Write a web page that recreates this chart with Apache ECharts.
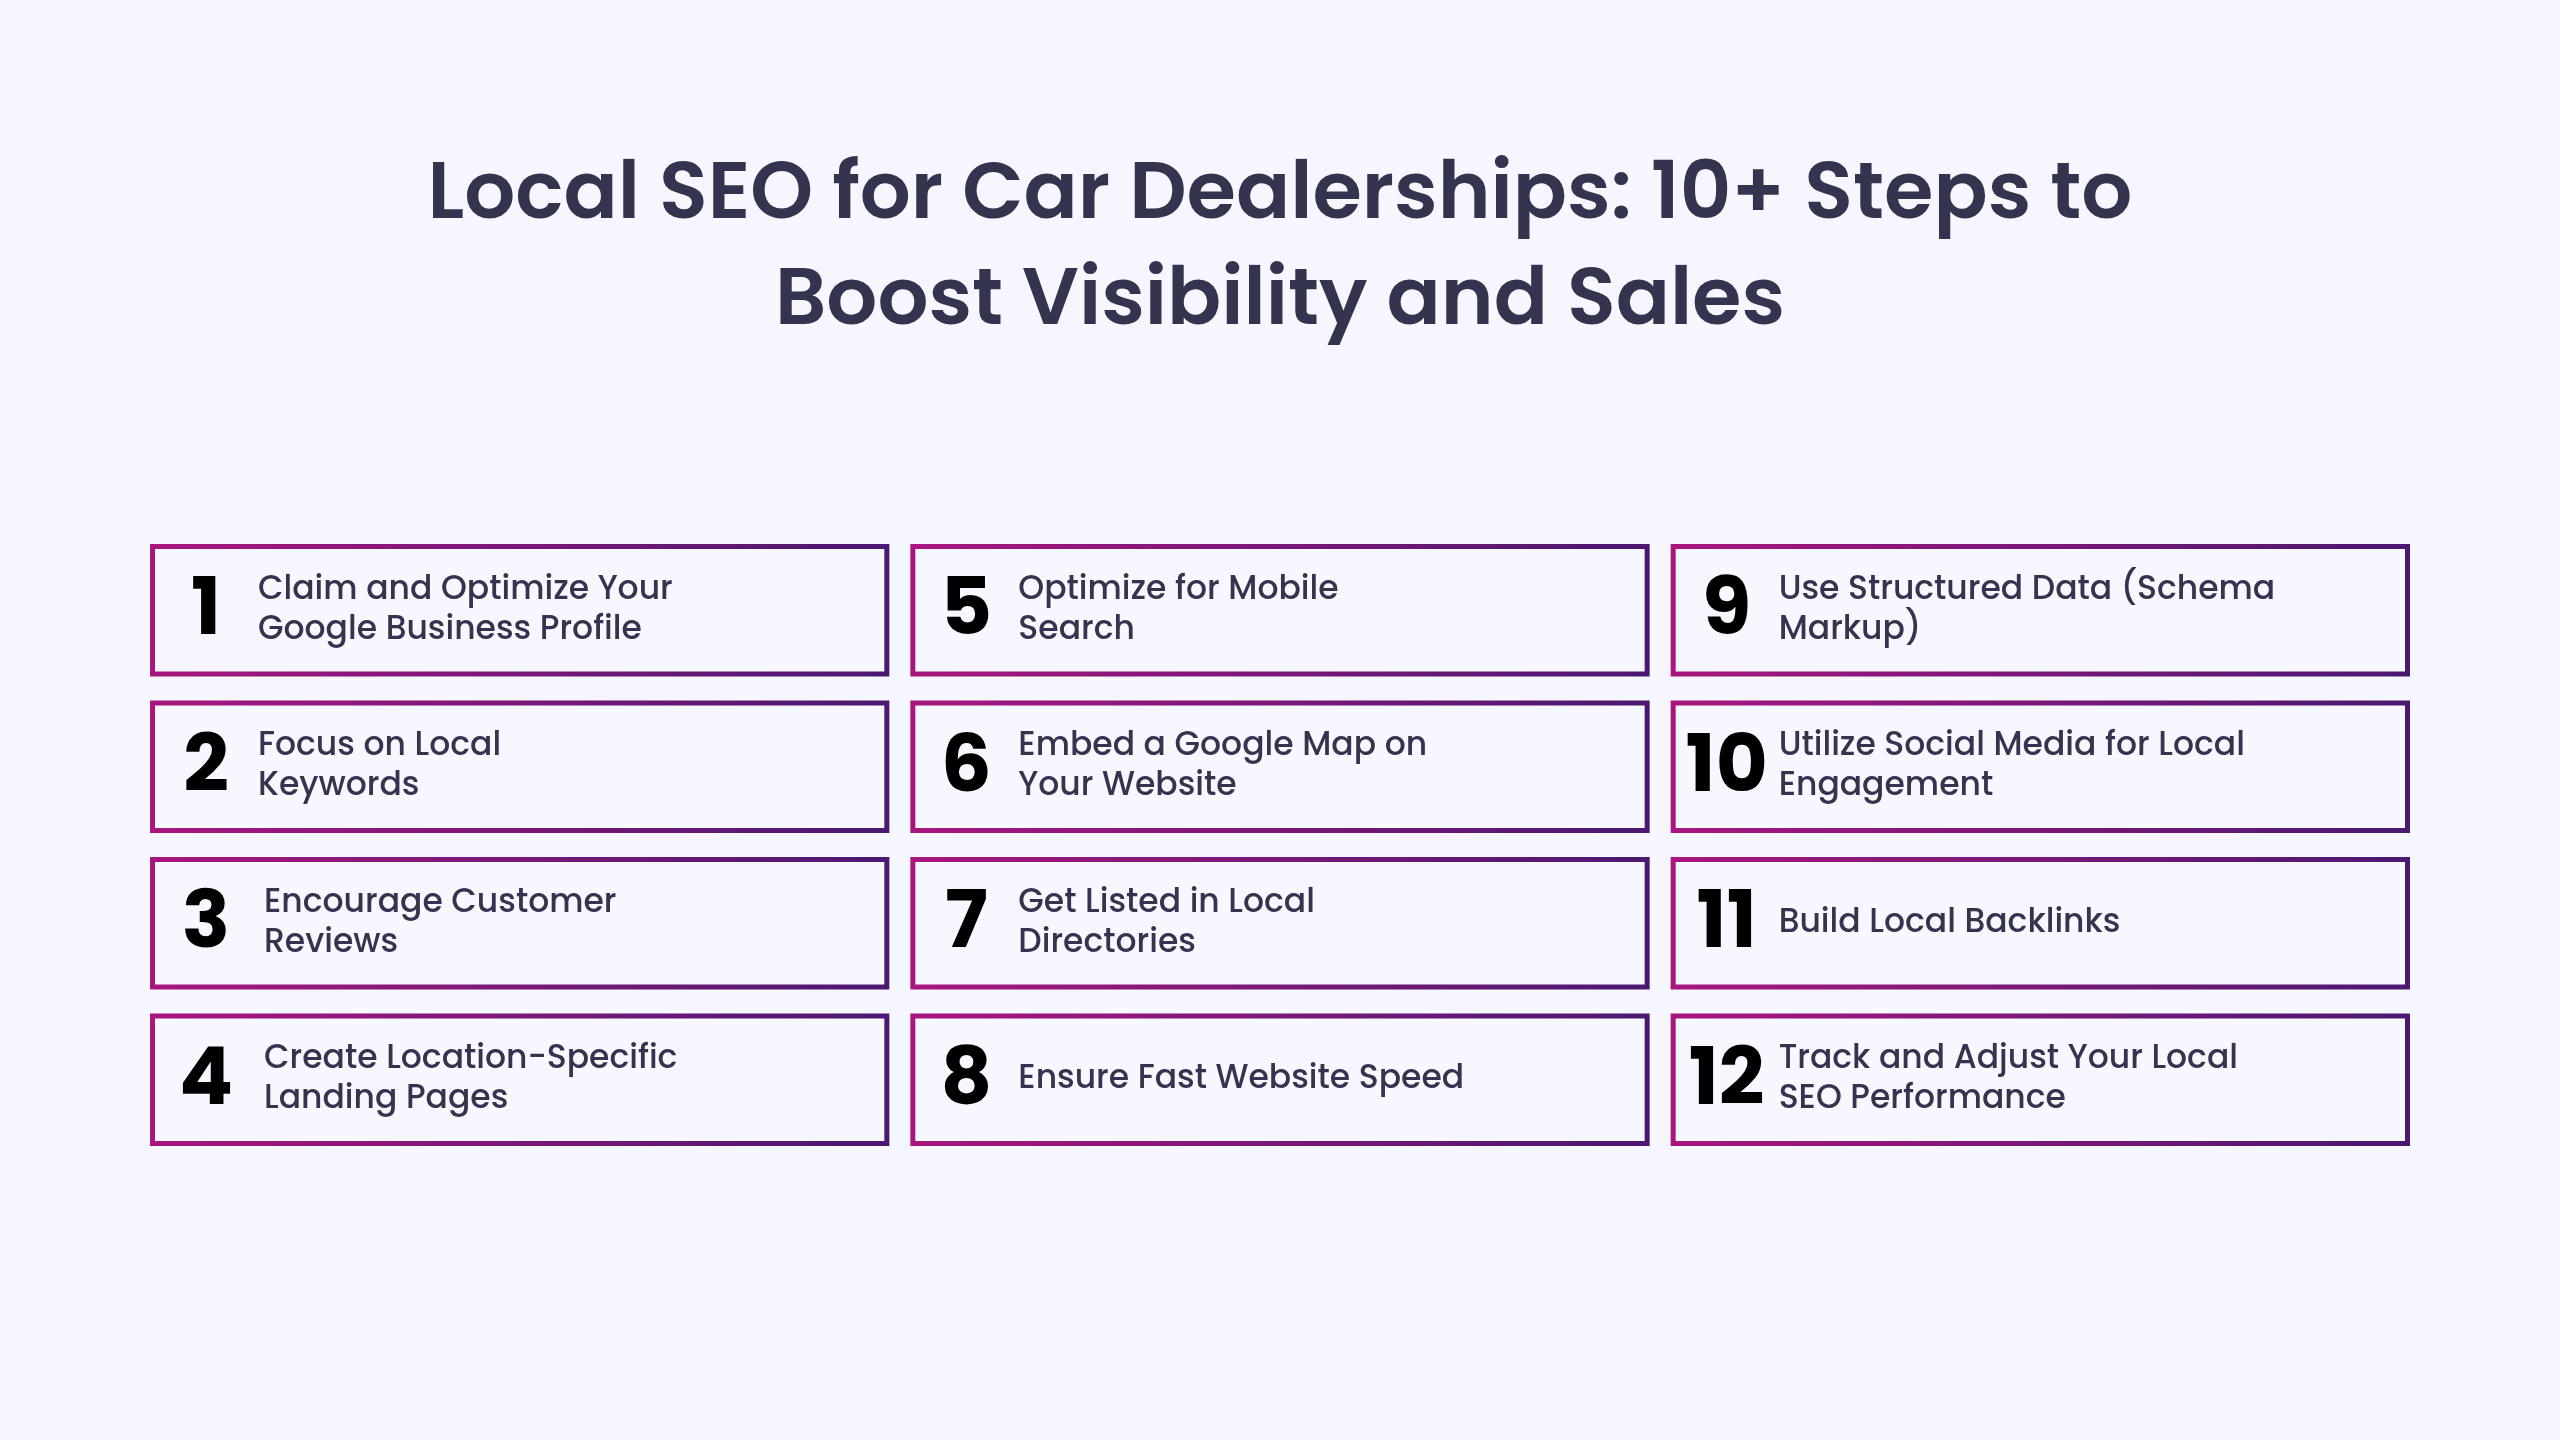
<!DOCTYPE html>
<html><head><meta charset="utf-8">
<script src="https://cdn.jsdelivr.net/npm/echarts@6/dist/echarts.min.js"></script>
<style>html,body{margin:0;background:#f5f6fe}#c{width:2560px;height:1440px}</style>
</head><body><div id="c"></div>
<script>
const titleLines = ["Local SEO for Car Dealerships: 10+ Steps to", "Boost Visibility and Sales"];
const stepNumbers = ["1","2","3","4","5","6","7","8","9","10","11","12"];
const stepTexts = [
 "Claim and Optimize Your\nGoogle Business Profile",
 "Focus on Local\nKeywords",
 "Encourage Customer\nReviews",
 "Create Location-Specific\nLanding Pages",
 "Optimize for Mobile\nSearch",
 "Embed a Google Map on\nYour Website",
 "Get Listed in Local\nDirectories",
 "Ensure Fast Website Speed",
 "Use Structured Data (Schema\nMarkup)",
 "Utilize Social Media for Local\nEngagement",
 "Build Local Backlinks",
 "Track and Adjust Your Local\nSEO Performance"
];
const stepCols = [0,0,0,0,1,1,1,1,2,2,2,2];
const stepRows = [0,1,2,3,0,1,2,3,0,1,2,3];

const data = stepNumbers.map((n,i)=>[stepCols[i], stepRows[i], i]);
const grad = (x2)=>new echarts.graphic.LinearGradient(0,0,1,0,[{offset:0,color:'#a8167f'},{offset:1,color:'#4b1870'}]);
const chart = echarts.init(document.getElementById('c'));
chart.setOption({
 backgroundColor:'#f5f6fe',
 title:{text:titleLines.join('\n'),left:'center',top:140,textStyle:{fontFamily:'Poppins, Inter, "Noto Sans"',fontWeight:600,fontSize:80,lineHeight:106,color:'#34344e'}},
 grid:{left:150,right:129,top:544,bottom:270},
 xAxis:{type:'value',min:0,max:3,show:false},
 yAxis:{type:'value',min:0,max:4,inverse:true,show:false},
 series:[{type:'custom',data:data,renderItem:(params,api)=>{
   const p = api.coord([api.value(0),api.value(1)]);
   const s = api.size([1,1]);
   const i = api.value(2);
   const w = s[0]-21, h = s[1]-24;
   return {type:'group',children:[
    {type:'rect',shape:{x:p[0]+2.5,y:p[1]+2.5,width:w-5,height:h-5},style:{fill:'#f7f7ff',stroke:grad(),lineWidth:5}},
    {type:'text',style:{text:stepNumbers[i],x:p[0]+56,y:p[1]+h/2+4,align:'center',verticalAlign:'middle',font:'700 80px Poppins, Inter, "Noto Sans"',fill:new echarts.graphic.LinearGradient(0,0,1,1,[{offset:0,color:'#9c1680'},{offset:1,color:'#5a1472'}])}},
    {type:'text',style:{text:stepTexts[i],x:p[0]+(i<2||i>=4?108:114),y:p[1]+h/2,verticalAlign:'middle',font:'500 33px Poppins, Inter, "Noto Sans"',lineHeight:40,fill:'#34344e'}}
   ]};
 }}]
});
</script></body></html>
